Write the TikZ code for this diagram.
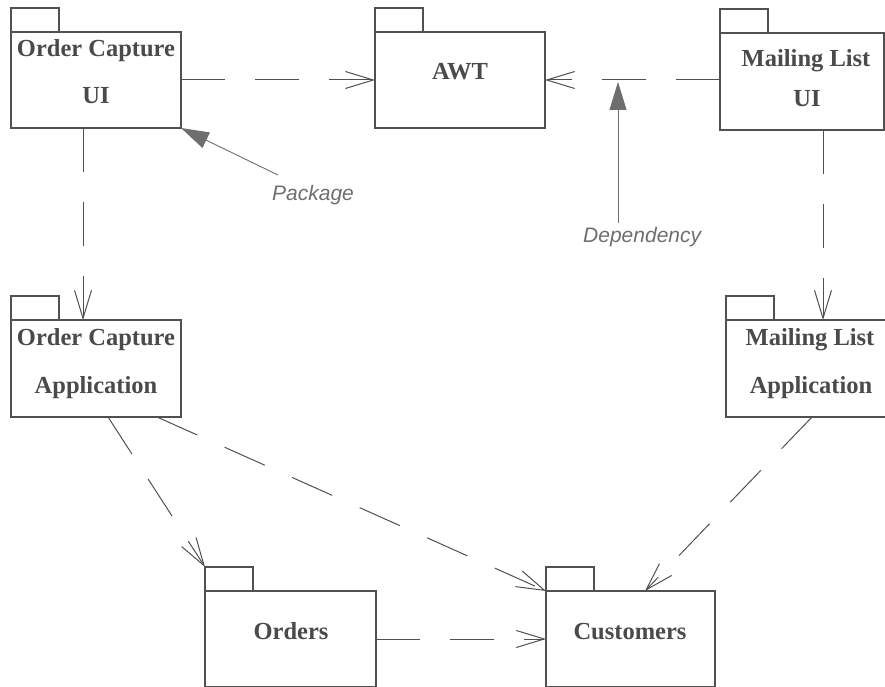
\documentclass[tikz,border=0pt]{standalone}
\usepackage{fontspec}
\newfontfamily\annfont{Liberation Sans}
\newfontfamily\pkgfont{Liberation Serif}
\usetikzlibrary{arrows.meta,calc}
\definecolor{linec}{HTML}{505050}
\definecolor{textc}{HTML}{4A4A4A}
\definecolor{annc}{HTML}{6E6E6E}
\begin{document}
\begin{tikzpicture}[x=1pt,y=1pt,
  pkgbody/.style={draw=linec,line width=1.1pt,inner sep=0pt,outer sep=0pt,minimum height=96pt},
  tabbox/.style={draw=linec,line width=1.1pt,inner sep=0pt,outer sep=0pt,minimum width=48pt,minimum height=24pt,anchor=south west},
  pkgtext/.style={text=textc,font=\pkgfont\bfseries\fontsize{24.5}{29}\selectfont,inner sep=0pt,anchor=base},
  deparrow/.style={draw=linec,line width=1pt,dash pattern=on 44pt off 30pt,-{Straight Barb[length=28pt,width=17pt,line width=1pt]}},
  annarrow/.style={draw=annc,line width=0.9pt,-{Triangle[length=28pt,width=17pt,fill=annc]}},
  anntext/.style={text=annc,font=\annfont\itshape\fontsize{21}{25}\selectfont,inner sep=0pt,anchor=base west}]
\useasboundingbox (0,0) rectangle (885,-687);

% Order Capture UI
\node[pkgbody,minimum width=170pt] (ocui) at (96,-80) {};
\node[tabbox] (ocuitab) at (ocui.north west) {};
\node[pkgtext] (ocuia) at (96,-57) {Order Capture};
\node[pkgtext] (ocuib) at (96,-104) {UI};

% AWT
\node[pkgbody,minimum width=170pt] (awt) at (460,-80) {};
\node[tabbox] (awttab) at (awt.north west) {};
\node[pkgtext] (awta) at (460,-80) {AWT};

% Mailing List UI
\node[pkgbody,minimum width=164pt,minimum height=97pt] (mlui) at (802,-81.5) {};
\node[tabbox] (mluitab) at (mlui.north west) {};
\node[pkgtext] (mluia) at (806,-67) {Mailing List};
\node[pkgtext] (mluib) at (807,-107) {UI};

% Order Capture Application
\node[pkgbody,minimum width=170pt,minimum height=97pt] (ocapp) at (96,-368.5) {};
\node[tabbox] (ocapptab) at (ocapp.north west) {};
\node[pkgtext] (ocappa) at (96,-345) {Order Capture};
\node[pkgtext] (ocappb) at (96,-393) {Application};

% Mailing List Application
\node[pkgbody,minimum width=160pt,minimum height=97pt] (mlapp) at (806,-368.5) {};
\node[tabbox] (mlapptab) at (mlapp.north west) {};
\node[pkgtext] (mlappa) at (810,-345) {Mailing List};
\node[pkgtext] (mlappb) at (811,-393) {Application};

% Orders
\node[pkgbody,minimum width=171pt] (orders) at (290.5,-639) {};
\node[tabbox] (orderstab) at (orders.north west) {};
\node[pkgtext] (ordersa) at (291,-639) {Orders};

% Customers
\node[pkgbody,minimum width=169pt] (cust) at (630.5,-639) {};
\node[tabbox] (custtab) at (cust.north west) {};
\node[pkgtext] (custa) at (630,-639) {Customers};

% dependencies
\draw[deparrow] (ocui.east) -- (awt.west);
\draw[deparrow] (mlui.west |- awt.east) -- (awt.east);
\draw[deparrow] ($(ocui.south west)+(72,0)$) -- ($(ocapp.north west)+(72,0)$);
\draw[deparrow] ($(mlui.south west)+(103,0)$) -- ($(mlapp.north west)+(97,0)$);
\draw[deparrow] ($(ocapp.south west)+(97,0)$) -- (orderstab.north west);
\draw[deparrow] ($(ocapp.south west)+(146,0)$) -- (cust.north west);
\draw[deparrow] ($(mlapp.south west)+(86,0)$) -- ($(cust.north)+(14.5,0)$);
\draw[deparrow] (orders.east) -- (cust.west);

% annotations
\node[anntext] (pkglabel) at (272,-200) {Package};
\node[anntext] (deplabel) at (583,-242) {Dependency};
\coordinate (pkgtail) at (278,-175);
\coordinate (deptail) at (618,-223);
\coordinate (deptip) at (618,-82);
\draw[annarrow] (pkgtail) -- (ocui.south east);
\draw[annarrow] (deptail) -- (deptip);
\end{tikzpicture}
\end{document}
